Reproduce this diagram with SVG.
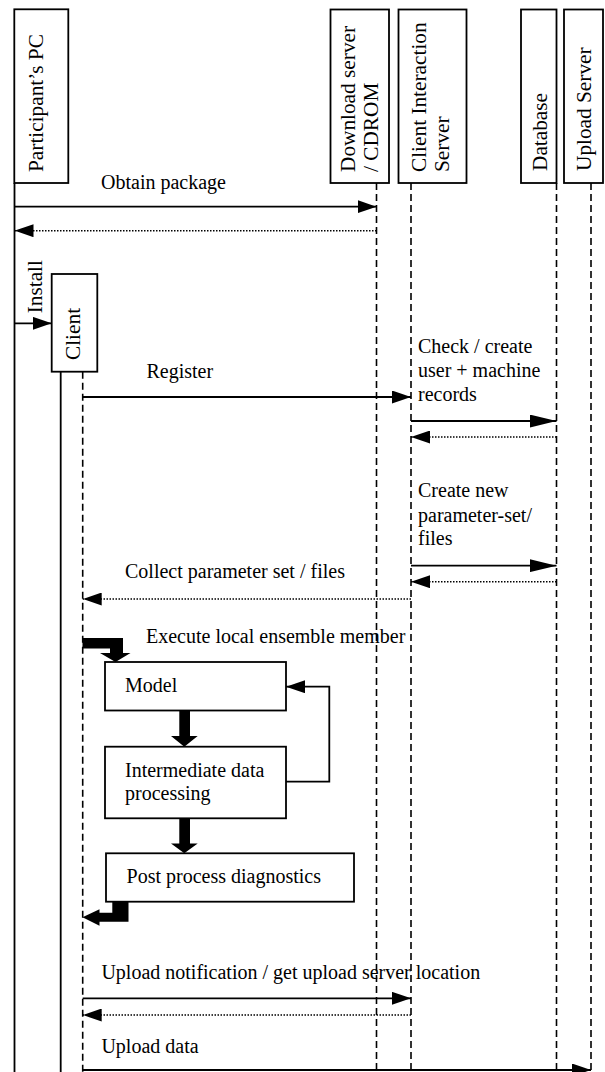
<svg xmlns="http://www.w3.org/2000/svg" width="605" height="1072" viewBox="0 0 605 1072">
<style>
text{font-family:"Liberation Serif","Times New Roman",serif;fill:#000}
.h{font-size:20px}
.v{font-size:21.3px}
.box{fill:#fff;stroke:#000;stroke-width:1.8}
.solid{stroke:#000;stroke-width:1.8;fill:none}
.dash{stroke:#000;stroke-width:1.6;stroke-dasharray:7 4;fill:none}
.msg{stroke:#000;stroke-width:1.8;fill:none;marker-end:url(#ah)}
.msgl{stroke:#000;stroke-width:1.8;fill:none;marker-end:url(#ahl)}
.ret{stroke:#000;stroke-width:1.5;stroke-dasharray:1.5 1.5;fill:none;marker-end:url(#ah)}
.thick{fill:#000;stroke:none}
</style>
<defs>
<marker id="ah" markerWidth="19" markerHeight="13" refX="19" refY="6.5" orient="auto" markerUnits="userSpaceOnUse"><path d="M0,0 L19,6.5 L0,13 Z" fill="#000"/></marker>
<marker id="ahl" markerWidth="27" markerHeight="13" refX="27" refY="6.5" orient="auto" markerUnits="userSpaceOnUse"><path d="M0,0 L27,6.5 L0,13 Z" fill="#000"/></marker>
</defs>

<g id="lifelines">
<line class="solid" x1="14.5" y1="183" x2="14.5" y2="1072"/>
<line class="dash" x1="376.5" y1="183" x2="376.5" y2="1072"/>
<line class="dash" x1="411" y1="183" x2="411" y2="1072"/>
<line class="dash" x1="556.5" y1="183" x2="556.5" y2="1072"/>
<line class="dash" x1="591" y1="183" x2="591" y2="1072"/>
<line class="solid" x1="60.7" y1="371.7" x2="60.7" y2="1072"/>
<line class="dash" x1="82.7" y1="371.7" x2="82.7" y2="1072"/>
</g>

<g id="participant-pc">
<rect class="box" x="14.3" y="9.3" width="54" height="173.7"/>
<text class="v" transform="translate(42.5,172) rotate(-90)">Participant’s PC</text>
</g>
<g id="download-server">
<rect class="box" x="330.5" y="9.5" width="58.5" height="173.5"/>
<text class="v" transform="translate(354.5,172) rotate(-90)">Download server</text>
<text class="v" transform="translate(377.5,172) rotate(-90)">/ CDROM</text>
</g>
<g id="client-interaction-server">
<rect class="box" x="398.5" y="9.5" width="68" height="173.5"/>
<text class="v" transform="translate(426,172) rotate(-90)">Client Interaction</text>
<text class="v" transform="translate(449,172) rotate(-90)">Server</text>
</g>
<g id="database">
<rect class="box" x="521" y="9.5" width="35.5" height="173.5"/>
<text class="v" transform="translate(546.5,171) rotate(-90)">Database</text>
</g>
<g id="upload-server">
<rect class="box" x="564" y="9.5" width="39" height="173.5"/>
<text class="v" transform="translate(590.5,171) rotate(-90)">Upload Server</text>
</g>
<g id="client">
<rect class="box" x="51.7" y="274" width="45.6" height="97.7"/>
<text class="v" transform="translate(80,360) rotate(-90)">Client</text>
</g>

<g id="model">
<rect class="box" x="105" y="662" width="181" height="48.5"/>
<text class="h" x="125" y="691.7">Model</text>
</g>
<g id="intermediate">
<rect class="box" x="105" y="746.7" width="181" height="71.6"/>
<text class="h" x="125" y="777">Intermediate data</text>
<text class="h" x="125" y="800">processing</text>
</g>
<g id="post-process">
<rect class="box" x="106" y="853.3" width="248" height="48.4"/>
<text class="h" x="126.6" y="883">Post process diagnostics</text>
</g>

<g id="connectors">
<line class="msg" x1="14.5" y1="206.7" x2="376.5" y2="206.7"/>
<text class="h" x="101" y="189">Obtain package</text>
<line class="ret" x1="376.5" y1="230.7" x2="14.5" y2="230.7"/>

<line class="msg" x1="14.5" y1="323.3" x2="51.7" y2="323.3"/>
<text class="v" transform="translate(42.3,313.3) rotate(-90)">Install</text>

<line class="msg" x1="82.7" y1="397" x2="411" y2="397"/>
<text class="h" x="146.5" y="378.3">Register</text>

<text class="h" x="418" y="353">Check / create</text>
<text class="h" x="418" y="377">user + machine</text>
<text class="h" x="418" y="401.3">records</text>
<line class="msgl" x1="411" y1="421" x2="556.5" y2="421"/>
<line class="ret" x1="556.5" y1="437" x2="411" y2="437"/>

<text class="h" x="418" y="496.7">Create new</text>
<text class="h" x="418" y="521.5">parameter-set/</text>
<text class="h" x="418" y="545">files</text>
<line class="msgl" x1="411" y1="565.7" x2="556.5" y2="565.7"/>
<line class="ret" x1="556.5" y1="581.7" x2="411" y2="581.7"/>

<text class="h" x="125" y="578">Collect parameter set / files</text>
<line class="ret" x1="411" y1="599" x2="82.7" y2="599"/>

<text class="h" x="146" y="643">Execute local ensemble member</text>
<path class="thick" d="M82.5,638 H123 V653 H130.5 L115.5,662 L100,653 H110 V648.5 H82.5 Z"/>
<path class="thick" d="M179.3,710.5 H190 V736 H197.7 L184.3,746.7 L171,736 H179.3 Z"/>
<path class="thick" d="M179.3,818.3 H190 V843.5 H197.7 L184.3,853.3 L171,843.5 H179.3 Z"/>
<path class="thick" d="M112.3,901.7 H128.5 V921.7 H99.5 V925.7 L82.5,917.2 L99.5,909.3 V912.7 H112.3 Z"/>
<polyline class="solid" points="286,781.7 329.3,781.7 329.3,686.7 286,686.7" style="marker-end:url(#ah)"/>

<text class="h" x="101.4" y="979.3">Upload notification / get upload server location</text>
<line class="msg" x1="82.7" y1="998.3" x2="411" y2="998.3"/>
<line class="ret" x1="411" y1="1015" x2="82.7" y2="1015"/>

<text class="h" x="101.4" y="1052.7">Upload data</text>
<line class="msg" x1="82.7" y1="1070" x2="591" y2="1070"/>
</g>
</svg>
